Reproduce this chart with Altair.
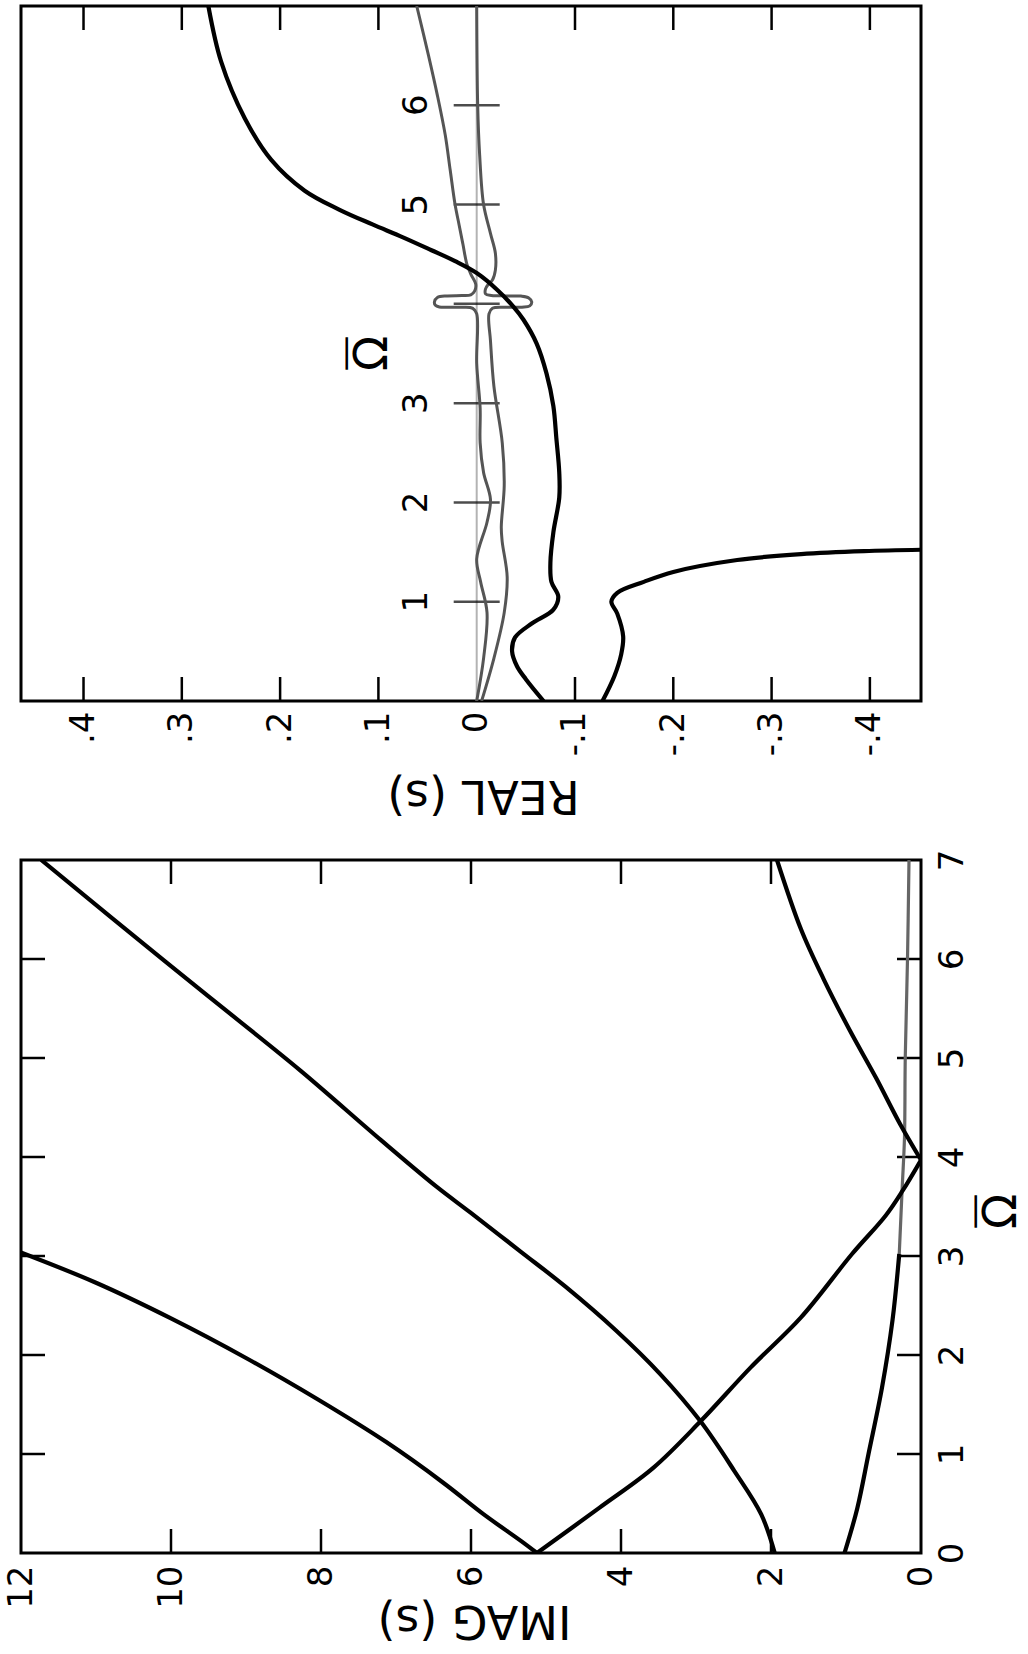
import altair as alt
import pandas as pd

FONT = "DejaVu Sans"
W = 900          # plot width of both panels
H_TOP = 695      # plot height, REAL(s) panel
H_BOT = 693      # plot height, IMAG(s) panel
TICK = 24        # inward tick length

# ---------------- IMAG(s) panel: curves (IMAG value, Omega-bar) ----------------
A_IMAG = [5.12, 5.33, 5.83, 6.37, 7.13, 8.04, 9.0, 10.0, 11.0, 12.05]
A_OMEGA = [0.0, 0.12, 0.39, 0.71, 1.12, 1.55, 1.97, 2.37, 2.73, 3.05]

B_IMAG = [1.95, 2.13, 2.49, 2.94, 3.48, 4.07, 4.74, 5.33, 6.01, 6.46, 7.2, 8.27, 9.2, 10.07, 11.73]
B_OMEGA = [0.0, 0.39, 0.83, 1.33, 1.81, 2.25, 2.69, 3.04, 3.44, 3.7, 4.17, 4.87, 5.44, 5.97, 7.0]

P_IMAG = [5.12, 4.29, 3.57, 2.94, 2.27, 1.6, 0.92, 0.47, 0.245, 0.0]
P_OMEGA = [0.0, 0.456, 0.86, 1.33, 1.875, 2.38, 3.02, 3.41, 3.66, 3.97]

Q_IMAG = [0.0, 0.27, 0.6, 0.95, 1.3, 1.6, 1.92]
Q_OMEGA = [3.97, 4.32, 4.8, 5.28, 5.8, 6.3, 7.0]

D1_IMAG = [1.02, 0.85, 0.70, 0.52, 0.38, 0.29]
D1_OMEGA = [0.0, 0.45, 1.0, 1.67, 2.35, 3.02]
D2_IMAG = [0.29, 0.25, 0.22, 0.21, 0.18, 0.16]
D2_OMEGA = [3.02, 3.7, 4.2, 5.0, 6.0, 7.0]

IMAG_TICKS = [0, 2, 4, 6, 8, 10, 12]
IMAG_INNER = [2, 4, 6, 8, 10]
OMEGA_TICKS = [0, 1, 2, 3, 4, 5, 6, 7]
OMEGA_INNER = [1, 2, 3, 4, 5, 6]

# ---------------- REAL(s) panel: curves (REAL value, Omega-bar) ----------------
R1_REAL = [0.273, 0.26, 0.236, 0.209, 0.175, 0.14, 0.106, 0.075, 0.046, 0.022,
           0.0, -0.021, -0.0375, -0.0476, -0.061, -0.071, -0.078, -0.081,
           -0.084, -0.084, -0.078, -0.075, -0.076, -0.083, -0.078, -0.056, -0.039,
           -0.036, -0.041, -0.05, -0.068]
R1_OMEGA = [7.0, 6.44, 5.87, 5.45, 5.14, 4.95, 4.80, 4.67, 4.54, 4.43,
            4.31, 4.14, 3.97, 3.84, 3.6, 3.3, 2.97, 2.65,
            2.3, 2.05, 1.7, 1.4, 1.2, 1.05, 0.92, 0.78, 0.64,
            0.5, 0.35, 0.22, 0.0]

R2_REAL = [-0.128, -0.14, -0.147, -0.149, -0.143, -0.137, -0.143, -0.17, -0.2, -0.265,
           -0.33, -0.394, -0.46]
R2_OMEGA = [0.0, 0.25, 0.47, 0.65, 0.88, 1.0, 1.09, 1.2, 1.3, 1.42, 1.48, 1.51, 1.525]

L_REAL = [0.0, -0.007, -0.0105, -0.004, 0.0, -0.0105, -0.014, -0.007, -0.0035, -0.0035,
          0.0, 0.0, 0.004, 0.015, 0.03, 0.038, 0.042, 0.043, 0.04, 0.03, 0.015, 0.006,
          0.002, 0.001, 0.006, 0.01, 0.014, 0.018, 0.022, 0.027, 0.032, 0.04, 0.049, 0.061]
L_OMEGA = [0.0, 0.43, 0.89, 1.2, 1.43, 1.8, 2.03, 2.3, 2.6, 2.95,
           3.4, 3.9, 3.955, 3.965, 3.965, 3.968, 3.985, 4.02, 4.065, 4.08, 4.083, 4.09,
           4.13, 4.2, 4.3, 4.4, 4.6, 4.8, 5.0, 5.35, 5.7, 6.1, 6.5, 7.0]

M_REAL = [-0.005, -0.0175, -0.028, -0.031, -0.026, -0.025, -0.028, -0.026, -0.0175,
          -0.014, -0.0125, -0.016, -0.03, -0.046, -0.054, -0.056, -0.053, -0.045, -0.03,
          -0.015, -0.009, -0.009, -0.012, -0.016, -0.019, -0.019, -0.014, -0.007,
          -0.003, -0.001, 0.0]
M_OMEGA = [0.0, 0.43, 0.89, 1.25, 1.6, 1.75, 2.17, 2.6, 3.17,
           3.63, 3.9, 3.955, 3.965, 3.967, 3.98, 4.02, 4.06, 4.078, 4.08,
           4.085, 4.1, 4.15, 4.2, 4.24, 4.34, 4.51, 4.71, 5.0,
           5.5, 6.0, 7.0]

REAL_TICKS = [-0.4, -0.3, -0.2, -0.1, 0.0, 0.1, 0.2, 0.3, 0.4]
REAL_INNER = [-0.4, -0.3, -0.2, -0.1, 0.1, 0.2, 0.3, 0.4]
CROSS_OMEGA = [1, 2, 3, 4, 5, 6]
CROSS_LABELS = ["1", "2", "3", "", "5", "6"]

OMEGA_SYMBOL = "Ω"
OVERBAR = "—"


def curve_frame(curves):
    rows = []
    for name, xs, ys in curves:
        for i, (xv, yv) in enumerate(zip(xs, ys)):
            rows.append({"curve": name, "v": xv, "w": yv, "i": i})
    return pd.DataFrame(rows)


def omega_bar_label(x_enc, y_enc, value_x, value_w, offset):
    """Omega with an overbar; after the 270 degree turn the bar sits on its left."""
    df = pd.DataFrame({"v": [value_x], "w": [value_w], "s": [OMEGA_SYMBOL], "b": [OVERBAR]})
    sym = alt.Chart(df).mark_text(
        angle=270, dy=offset, fontSize=46, font=FONT, color="black",
        align="center", baseline="middle",
    ).encode(x=x_enc, y=y_enc, text="s:N")
    bar = alt.Chart(df).mark_text(
        angle=270, dy=offset - 27, fontSize=36, font=FONT, color="black",
        align="center", baseline="middle",
    ).encode(x=x_enc, y=y_enc, text="b:N")
    return sym + bar


# ---------------- REAL(s) panel ----------------
real_scale = alt.Scale(domain=[-0.452, 0.4636], reverse=True, nice=False, zero=False)
omega_top = alt.Scale(domain=[0, 7], nice=False, zero=False)

real_axis = alt.Axis(
    values=REAL_TICKS, grid=False, ticks=False, domain=False,
    labelExpr="datum.value == 0 ? '0' : (datum.value < 0 ? '-' : '') + '.' + round(abs(datum.value) * 10)",
    labelAngle=270, labelAlign="right", labelBaseline="middle", labelPadding=10,
    labelFontSize=34, labelFlush=False, labelOverlap=False,
    labelFont=FONT, labelColor="black", titleFont=FONT, titleColor="black",
    title="REAL (s)", titleAngle=180, titleX=462, titleY=93,
    titleAlign="center", titleBaseline="middle", titleFontSize=46, titleFontWeight="normal",
)


def xr(field="v"):
    return alt.X(f"{field}:Q", scale=real_scale, axis=real_axis)


def yr(field="w"):
    return alt.Y(f"{field}:Q", scale=omega_top, axis=None)


zero_line = alt.Chart(pd.DataFrame({"v": [0.0]})).mark_rule(
    color="#b3b3b3", strokeWidth=2
).encode(x=xr(), y=alt.value(0), y2=alt.value(H_TOP))

inner = pd.DataFrame({"v": REAL_INNER})
real_ticks_top = alt.Chart(inner).mark_rule(color="black", strokeWidth=2.5).encode(
    x=xr(), y=alt.value(0), y2=alt.value(TICK))
real_ticks_bot = alt.Chart(inner).mark_rule(color="black", strokeWidth=2.5).encode(
    x=xr(), y=alt.value(H_TOP - TICK), y2=alt.value(H_TOP))

cross = pd.DataFrame({"v": [0.0] * len(CROSS_OMEGA), "w": CROSS_OMEGA, "lab": CROSS_LABELS})
cross_ticks = alt.Chart(cross).mark_tick(
    orient="horizontal", size=46, thickness=2.5, color="black"
).encode(x=xr(), y=yr())
cross_text = alt.Chart(cross).mark_text(
    angle=270, dy=-60, fontSize=34, font=FONT, color="black", align="center", baseline="middle"
).encode(x=xr(), y=yr(), text="lab:N")
omega_title_top = omega_bar_label(xr(), yr(), 0.0, 3.5, -104)

gray_real = curve_frame([("L", L_REAL, L_OMEGA), ("M", M_REAL, M_OMEGA)])
black_real = curve_frame([("R1", R1_REAL, R1_OMEGA), ("R2", R2_REAL, R2_OMEGA)])

gray_lines_top = alt.Chart(gray_real).mark_line(
    color="#555555", strokeWidth=3, interpolate="catmull-rom", clip=True
).encode(x=xr(), y=yr(), detail="curve:N", order="i:Q")
black_lines_top = alt.Chart(black_real).mark_line(
    color="black", strokeWidth=4.2, interpolate="catmull-rom", clip=True
).encode(x=xr(), y=yr(), detail="curve:N", order="i:Q")

top = alt.layer(
    zero_line, real_ticks_top, real_ticks_bot, cross_ticks, cross_text, omega_title_top,
    gray_lines_top, black_lines_top,
).properties(width=W, height=H_TOP)

# ---------------- IMAG(s) panel ----------------
imag_scale = alt.Scale(domain=[0, 12], reverse=True, nice=False, zero=False)
omega_bot = alt.Scale(domain=[0, 7], nice=False, zero=False)

imag_axis = alt.Axis(
    values=IMAG_TICKS, grid=False, ticks=False, domain=False,
    labelAngle=270, labelAlign="right", labelBaseline="middle",
    labelPadding=12, labelFontSize=34, labelFlush=False, labelOverlap=False,
    labelFont=FONT, labelColor="black", titleFont=FONT, titleColor="black",
    title="IMAG (s)", titleAngle=180, titleX=453, titleY=66,
    titleAlign="center", titleBaseline="middle", titleFontSize=46, titleFontWeight="normal",
)
omega_axis = alt.Axis(
    orient="right", values=OMEGA_TICKS, grid=False, ticks=False, domain=False,
    labelAngle=270, labelAlign="center", labelBaseline="top", labelPadding=14,
    labelFontSize=34, labelFlush=False, labelOverlap=False,
    labelFont=FONT, labelColor="black", title=None,
)


def xi(field="v"):
    return alt.X(f"{field}:Q", scale=imag_scale, axis=imag_axis)


def yi(field="w"):
    return alt.Y(f"{field}:Q", scale=omega_bot, axis=omega_axis)


imag_inner = pd.DataFrame({"v": IMAG_INNER})
imag_ticks_top = alt.Chart(imag_inner).mark_rule(color="black", strokeWidth=2.5).encode(
    x=xi(), y=alt.value(0), y2=alt.value(TICK))
imag_ticks_bot = alt.Chart(imag_inner).mark_rule(color="black", strokeWidth=2.5).encode(
    x=xi(), y=alt.value(H_BOT - TICK), y2=alt.value(H_BOT))

omega_inner = pd.DataFrame({"w": OMEGA_INNER})
omega_ticks_left = alt.Chart(omega_inner).mark_rule(color="black", strokeWidth=2.5).encode(
    y=yi(), x=alt.value(0), x2=alt.value(TICK))
omega_ticks_right = alt.Chart(omega_inner).mark_rule(color="black", strokeWidth=2.5).encode(
    y=yi(), x=alt.value(W - TICK), x2=alt.value(W))

omega_title_bot = omega_bar_label(xi(), yi(), 0.0, 3.45, 81)

black_imag = curve_frame([
    ("A", A_IMAG, A_OMEGA), ("B", B_IMAG, B_OMEGA), ("P", P_IMAG, P_OMEGA),
    ("Q", Q_IMAG, Q_OMEGA), ("D1", D1_IMAG, D1_OMEGA),
])
gray_imag = curve_frame([("D2", D2_IMAG, D2_OMEGA)])

black_lines_bot = alt.Chart(black_imag).mark_line(
    color="black", strokeWidth=4.2, interpolate="catmull-rom", clip=True
).encode(x=xi(), y=yi(), detail="curve:N", order="i:Q")
gray_lines_bot = alt.Chart(gray_imag).mark_line(
    color="#666666", strokeWidth=3.2, interpolate="catmull-rom", clip=True
).encode(x=xi(), y=yi(), detail="curve:N", order="i:Q")

bottom = alt.layer(
    imag_ticks_top, imag_ticks_bot, omega_ticks_left, omega_ticks_right, omega_title_bot,
    gray_lines_bot, black_lines_bot,
).properties(width=W, height=H_BOT)

chart = alt.vconcat(
    top, bottom, spacing=159, bounds="flush", background="white",
    padding={"left": 2, "top": 3, "right": 0, "bottom": 6},
).configure_view(
    stroke="black", strokeWidth=3
).configure_axis(
    grid=False, ticks=False, domain=False, labelFont=FONT, titleFont=FONT,
    labelColor="black", titleColor="black",
)

chart.save("out.html", embed_options={"renderer": "svg", "actions": False})
